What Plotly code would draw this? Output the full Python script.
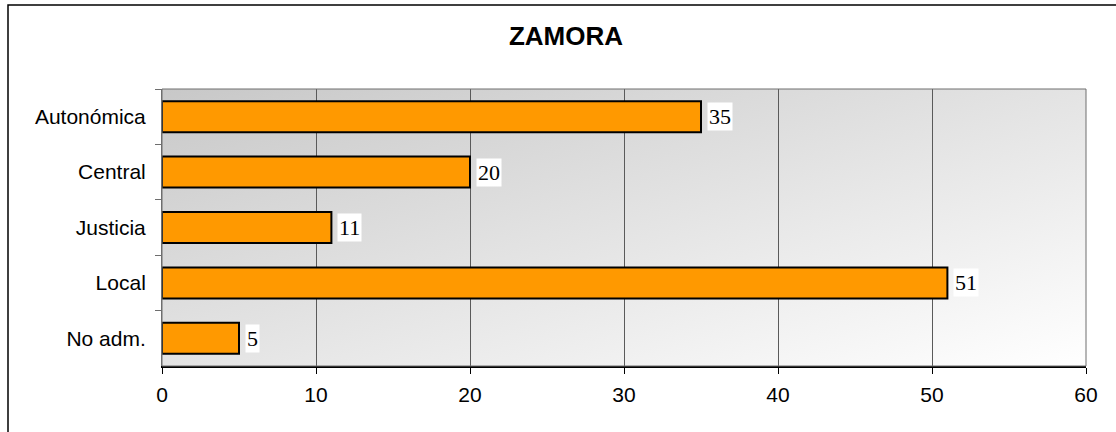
import base64
import plotly.graph_objects as go

categories = ["Autonómica", "Central", "Justicia", "Local", "No adm."]
values = [35, 20, 11, 51, 5]
x_ticks = [0, 10, 20, 30, 40, 50, 60]
title_text = "ZAMORA"

W, H = 1116, 432
ML, MR, MT, MB = 162, 30, 89, 66
PW, PH = W - ML - MR, H - MT - MB

svg = ('<svg xmlns="http://www.w3.org/2000/svg" width="924" height="277" preserveAspectRatio="none">'
       '<defs><linearGradient id="g" x1="0" y1="0" x2="1" y2="1">'
       '<stop offset="0" stop-color="#c8c8c8"/><stop offset="1" stop-color="#ffffff"/>'
       '</linearGradient></defs><rect width="924" height="277" fill="url(#g)"/></svg>')
img_src = "data:image/svg+xml;base64," + base64.b64encode(svg.encode()).decode()

fig = go.Figure()
fig.add_trace(go.Bar(
    y=categories, x=values, orientation="h",
    marker=dict(color="#ff9900", line=dict(color="#000000", width=2)),
    hoverinfo="skip",
))

for c, v in zip(categories, values):
    fig.add_annotation(
        x=v, y=c, xref="x", yref="y", text=str(v), showarrow=False,
        xanchor="left", xshift=6, bgcolor="#ffffff", borderpad=1,
        font=dict(family="Liberation Serif", size=22, color="#000000"),
    )

fig.add_layout_image(dict(
    source=img_src, xref="paper", yref="paper", x=0, y=1, sizex=1, sizey=1,
    sizing="stretch", xanchor="left", yanchor="top", layer="below",
))

# plot area border (top/right)
fig.add_shape(type="rect", xref="paper", yref="paper", x0=0, x1=1, y0=0, y1=1,
              line=dict(color="#6e6e6e", width=1), fillcolor="rgba(0,0,0,0)", layer="above")

# outer chart frame (left and top edges visible)
fx0 = (8 - ML) / PW
fy1 = (H - MB - 5) / PH
fig.add_shape(type="rect", xref="paper", yref="paper", x0=fx0, x1=fx0 + 2, y0=-2, y1=fy1,
              line=dict(color="#000000", width=1.5), fillcolor="rgba(0,0,0,0)")

fig.update_layout(
    width=W, height=H,
    margin=dict(l=ML, r=MR, t=MT, b=MB, pad=0),
    paper_bgcolor="#ffffff", plot_bgcolor="rgba(0,0,0,0)",
    bargap=0.44, showlegend=False,
    title=dict(text="<b>" + title_text + "</b>", x=566 / W, xref="container", xanchor="center",
               y=1 - 35.5 / H, yanchor="middle",
               font=dict(family="Liberation Sans", size=26, color="#000000")),
    font=dict(family="Liberation Sans", size=21, color="#000000"),
)
fig.update_xaxes(
    range=[0, 60], tickvals=x_ticks, ticktext=[str(t) for t in x_ticks],
    showgrid=True, gridcolor="#5a5a5a", gridwidth=1,
    showline=True, linecolor="#000000", linewidth=1.5,
    ticks="outside", ticklen=6, tickcolor="#000000", tickwidth=1,
    ticklabelstandoff=3, zeroline=False, fixedrange=True,
)
fig.update_yaxes(
    categoryorder="array", categoryarray=categories, autorange="reversed",
    showgrid=False, showline=True, linecolor="#6e6e6e", linewidth=1,
    ticks="outside", ticklen=6, tickcolor="#6e6e6e", tickson="boundaries",
    ticklabelstandoff=11, fixedrange=True,
)

fig.write_html("out.html", config={"displayModeBar": False},
               post_script="document.body.style.margin='0';")
